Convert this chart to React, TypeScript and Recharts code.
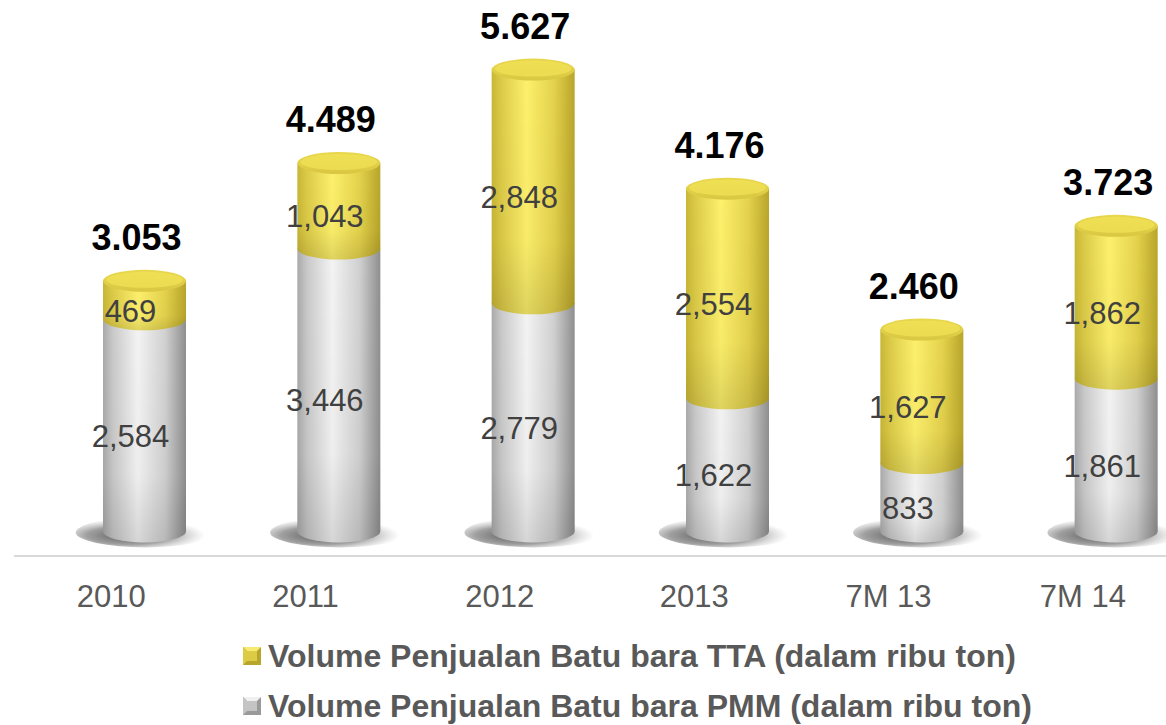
import { BarChart, Bar, XAxis, YAxis, LabelList, Legend } from "recharts";

const categories = ["2010", "2011", "2012", "2013", "7M 13", "7M 14"];
const pmmVolume = [2584, 3446, 2779, 1622, 833, 1861];
const ttaVolume = [469, 1043, 2848, 2554, 1627, 1862];

const legendItems = [
  { key: "tta", label: "Volume Penjualan Batu bara TTA (dalam ribu ton)" },
  { key: "pmm", label: "Volume Penjualan Batu bara PMM (dalam ribu ton)" },
];

const data = categories.map((year, i) => ({
  year,
  pmm: pmmVolume[i],
  tta: ttaVolume[i],
  total: pmmVolume[i] + ttaVolume[i],
}));

const FONT = '"Liberation Sans", Arial, sans-serif';
// 3D look: cylinders sit a bit to the right of their category
const DEPTH_X = 33;
const RY = 11;

const formatComma = (v: number) => v.toLocaleString("en-US");
const formatDot = (v: number) =>
  `${Math.floor(v / 1000)}.${String(v % 1000).padStart(3, "0")}`;

function makeCylinder(kind: "pmm" | "tta", isTop: boolean) {
  return (props: any) => {
    const { x, y, width, height } = props;
    if (width == null || height == null) return null;
    const l = x + DEPTH_X;
    const r = l + width;
    const cx = (l + r) / 2;
    const rx = width / 2;
    const yt = y;
    const yb = y + height;
    const body = `M ${l} ${yt} L ${l} ${yb} A ${rx} ${RY} 0 0 0 ${r} ${yb} L ${r} ${yt} Z`;
    return (
      <g>
        {!isTop && (
          <ellipse
            cx={cx + 1}
            cy={yb + 1}
            rx={width * 0.84}
            ry={RY + 4}
            fill="url(#shadowGrad)"
          />
        )}
        <path d={body} fill={`url(#${kind}Body)`} />
        <path d={body} fill="url(#shadeBottom)" />
        {isTop && (
          <g>
            <ellipse cx={cx} cy={yt} rx={rx} ry={RY} fill={`url(#${kind}Cap)`} />
            <ellipse
              cx={cx}
              cy={yt - 1}
              rx={rx - 3}
              ry={RY - 3}
              fill={kind === "tta" ? "#f2e257" : "#ededed"}
              opacity={0.7}
            />
          </g>
        )}
      </g>
    );
  };
}

const segmentLabel = (props: any) => {
  const { x, y, width, height, value } = props;
  return (
    <text
      x={x + width / 2 + DEPTH_X - 14}
      y={y + height / 2 + RY}
      textAnchor="middle"
      dominantBaseline="central"
      fill="#404040"
      fontSize={31}
      fontFamily={FONT}
    >
      {formatComma(value)}
    </text>
  );
};

const totalLabel = (props: any) => {
  const { x, y, width, value } = props;
  return (
    <text
      x={x + width / 2 + DEPTH_X - 8}
      y={y - 31}
      textAnchor="middle"
      fill="#000000"
      fontSize={36}
      fontWeight="bold"
      fontFamily={FONT}
    >
      {formatDot(value)}
    </text>
  );
};

const CategoryTick = (props: any) => {
  const { x, y, payload } = props;
  return (
    <text
      x={x}
      y={y + 49}
      textAnchor="middle"
      fill="#595959"
      fontSize={31}
      fontFamily={FONT}
    >
      {payload.value}
    </text>
  );
};

function LegendMarker({ kind }: { kind: string }) {
  const light = kind === "tta" ? "#f7ea70" : "#f0f0f0";
  const dark = kind === "tta" ? "#b8a52c" : "#9a9a9a";
  const mid = kind === "tta" ? "#dccb45" : "#c4c4c4";
  return (
    <svg width={18} height={18} style={{ display: "block" }}>
      <rect x={0} y={0} width={18} height={18} fill={dark} />
      <polygon points="0,0 18,0 9,9" fill={light} />
      <polygon points="0,0 0,18 9,9" fill={mid} />
      <rect x={4} y={4} width={10} height={10} fill={mid} />
    </svg>
  );
}

const renderLegend = () => (
  <div style={{ fontFamily: FONT }}>
    {legendItems.map((item) => (
      <div
        key={item.key}
        style={{ display: "flex", alignItems: "center", height: 50 }}
      >
        <LegendMarker kind={item.key} />
        <span
          style={{
            marginLeft: 7,
            fontSize: 32,
            fontWeight: "bold",
            color: "#595959",
            whiteSpace: "nowrap",
          }}
        >
          {item.label}
        </span>
      </div>
    ))}
  </div>
);

export default function App() {
  return (
    <div
      style={{
        position: "absolute",
        left: 0,
        top: 0,
        width: 1166,
        height: 725,
        overflow: "hidden",
        background: "#ffffff",
      }}
    >
      <BarChart
        width={1180}
        height={725}
        data={data}
        margin={{ top: 39, right: 0, left: 14, bottom: 109 }}
        barSize={83}
      >
        <defs>
          <linearGradient id="ttaBody" x1="0" y1="0" x2="1" y2="0">
            <stop offset="0" stopColor="#c9b635" />
            <stop offset="0.12" stopColor="#dccb48" />
            <stop offset="0.42" stopColor="#fdf06c" />
            <stop offset="0.75" stopColor="#e4d24c" />
            <stop offset="1" stopColor="#b8a52a" />
          </linearGradient>
          <linearGradient id="pmmBody" x1="0" y1="0" x2="1" y2="0">
            <stop offset="0" stopColor="#a9a9a9" />
            <stop offset="0.12" stopColor="#c9c9c9" />
            <stop offset="0.42" stopColor="#f3f3f3" />
            <stop offset="0.75" stopColor="#d0d0d0" />
            <stop offset="1" stopColor="#8e8e8e" />
          </linearGradient>
          <linearGradient id="shadeBottom" x1="0" y1="0" x2="0" y2="1">
            <stop offset="0" stopColor="#000000" stopOpacity={0} />
            <stop offset="0.7" stopColor="#000000" stopOpacity={0.02} />
            <stop offset="1" stopColor="#000000" stopOpacity={0.12} />
          </linearGradient>
          <linearGradient id="ttaCap" x1="0" y1="0" x2="0" y2="1">
            <stop offset="0" stopColor="#e9d84e" />
            <stop offset="1" stopColor="#d9c742" />
          </linearGradient>
          <linearGradient id="pmmCap" x1="0" y1="0" x2="0" y2="1">
            <stop offset="0" stopColor="#e0e0e0" />
            <stop offset="1" stopColor="#c8c8c8" />
          </linearGradient>
          <radialGradient id="shadowGrad" cx="0.38" cy="0.6" r="0.55">
            <stop offset="0" stopColor="#404040" stopOpacity={0.9} />
            <stop offset="0.55" stopColor="#606060" stopOpacity={0.6} />
            <stop offset="1" stopColor="#999999" stopOpacity={0} />
          </radialGradient>
        </defs>
        <XAxis
          dataKey="year"
          height={60}
          axisLine={{ stroke: "#d9d9d9", strokeWidth: 2 }}
          tickLine={false}
          tickSize={0}
          tick={<CategoryTick />}
          interval={0}
        />
        <YAxis hide domain={[-300, 6000]} />
        <Legend
          layout="vertical"
          align="center"
          verticalAlign="middle"
          content={renderLegend}
          wrapperStyle={{ top: 631, left: 243, width: 900 }}
        />
        <Bar
          dataKey="pmm"
          stackId="a"
          isAnimationActive={false}
          shape={makeCylinder("pmm", false)}
        >
          <LabelList dataKey="pmm" content={segmentLabel} />
        </Bar>
        <Bar
          dataKey="tta"
          stackId="a"
          isAnimationActive={false}
          shape={makeCylinder("tta", true)}
        >
          <LabelList dataKey="tta" content={segmentLabel} />
          <LabelList dataKey="total" content={totalLabel} />
        </Bar>
      </BarChart>
    </div>
  );
}
